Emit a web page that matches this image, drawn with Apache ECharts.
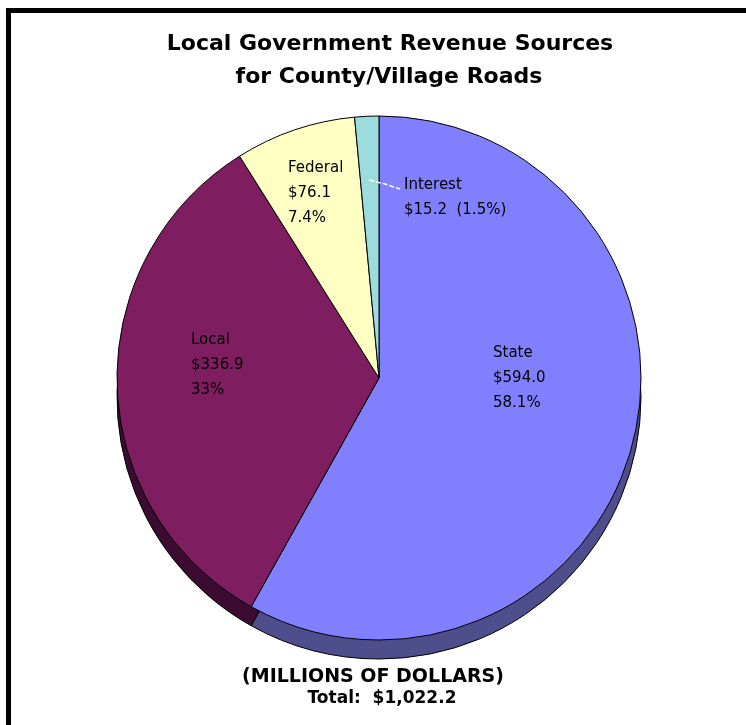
<!DOCTYPE html>
<html>
<head>
<meta charset="utf-8">
<title>Local Government Revenue Sources for County/Village Roads</title>
<script src="https://cdn.jsdelivr.net/npm/echarts@6/dist/echarts.min.js"></script>
<style>
  html, body { margin: 0; padding: 0; background: #fff; }
  #chart { position: absolute; left: 0; top: 0; width: 746px; height: 725px; }
  #frame {
    position: absolute; left: 6px; top: 8px; right: 0; bottom: 0;
    border-left: 5px solid #000; border-top: 5px solid #000;
    pointer-events: none;
  }
</style>
</head>
<body>
<div id="chart"></div>
<div id="frame"></div>
<script>
// Revenue sources, in millions of dollars (clockwise from 12 o'clock)
const sources = ['State', 'Local', 'Federal', 'Interest'];
const amounts = [594.0, 336.9, 76.1, 15.2];
const shareLabels = ['58.1%', '33%', '7.4%', '1.5%'];

const titleLines = ['Local Government Revenue Sources', 'for County/Village Roads'];
const unitNote = '(MILLIONS OF DOLLARS)';
const totalNote = 'Total:  $1,022.2';

// Pie geometry
const CX = 379, CY = 378, R = 262, DEPTH = 19;

// Top face and rim colours per source
const faceColors = { State: '#8080ff', Local: '#7e1d60', Federal: '#ffffc4', Interest: '#9cdcdc' };
const rimColors  = { State: '#4e4e8c', Local: '#3c0b32', Federal: '#9a9a6e', Interest: '#5a8a8a' };

// Where each label block starts, relative to the pie centre (left edge, vertical middle)
const labelSpots = {
  State:    [114, 0],
  Local:    [-188, -13],
  Federal:  [-91, -185],
  Interest: [25, -180]
};
// Leader line from inside the thin Interest slice to its label, relative to the pie centre
const interestLeader = [[-10, -198], [6, -194], [21, -189]];

const FONT = '"DejaVu Sans", "Liberation Sans", sans-serif';

function labelText(i) {
  const name = sources[i];
  const money = '$' + amounts[i].toFixed(1);
  if (name === 'Interest') return name + '\n' + money + '  (' + shareLabels[i] + ')';
  return name + '\n' + money + '\n' + shareLabels[i];
}

const faceData = sources.map((name, i) => ({
  name: name,
  value: amounts[i],
  itemStyle: { color: faceColors[name] }
}));

const rimData = sources.map((name, i) => ({
  name: name,
  value: amounts[i],
  itemStyle: { color: rimColors[name] }
}));

const chart = echarts.init(document.getElementById('chart'), null, { renderer: 'canvas' });

chart.setOption({
  animation: false,
  backgroundColor: '#ffffff',
  graphic: [
    {
      type: 'text', x: 390, y: 44,
      style: { text: titleLines[0], align: 'center', verticalAlign: 'middle',
               font: 'bold 22px ' + FONT, fill: '#000' }
    },
    {
      type: 'text', x: 389, y: 77,
      style: { text: titleLines[1], align: 'center', verticalAlign: 'middle',
               font: 'bold 22px ' + FONT, fill: '#000' }
    },
    {
      type: 'text', x: 373, y: 677,
      style: { text: unitNote, align: 'center', verticalAlign: 'middle',
               font: 'bold 19px ' + FONT, fill: '#000' }
    },
    {
      type: 'text', x: 382, y: 699,
      style: { text: totalNote, align: 'center', verticalAlign: 'middle',
               font: 'bold 17px ' + FONT, fill: '#000' }
    },
    {
      type: 'polyline', z: 100, silent: true,
      shape: { points: interestLeader.map(p => [CX + p[0], CY + p[1]]) },
      style: { stroke: '#ffffff', lineWidth: 1.5, lineDash: [5, 2], fill: null }
    }
  ],
  series: [
    {
      // rim of the disc, seen below the top face
      type: 'pie',
      silent: true,
      z: 1,
      center: [CX, CY + DEPTH],
      radius: R,
      startAngle: 90,
      clockwise: true,
      label: { show: false },
      labelLine: { show: false },
      itemStyle: { borderColor: '#000', borderWidth: 1 },
      emphasis: { disabled: true },
      data: rimData
    },
    {
      // top face
      type: 'pie',
      silent: true,
      z: 2,
      center: [CX, CY],
      radius: R,
      startAngle: 90,
      clockwise: true,
      avoidLabelOverlap: false,
      itemStyle: { borderColor: '#000', borderWidth: 1 },
      emphasis: { disabled: true },
      label: {
        show: true,
        position: 'inside',
        color: '#000',
        fontFamily: FONT,
        fontSize: 15,
        lineHeight: 25,
        align: 'left',
        formatter: p => labelText(p.dataIndex)
      },
      labelLine: { show: false },
      labelLayout: function (params) {
        const spot = labelSpots[sources[params.dataIndex]];
        return {
          x: CX + spot[0],
          y: CY + spot[1],
          align: 'left',
          verticalAlign: 'middle'
        };
      },
      data: faceData
    }
  ]
});
</script>
</body>
</html>
